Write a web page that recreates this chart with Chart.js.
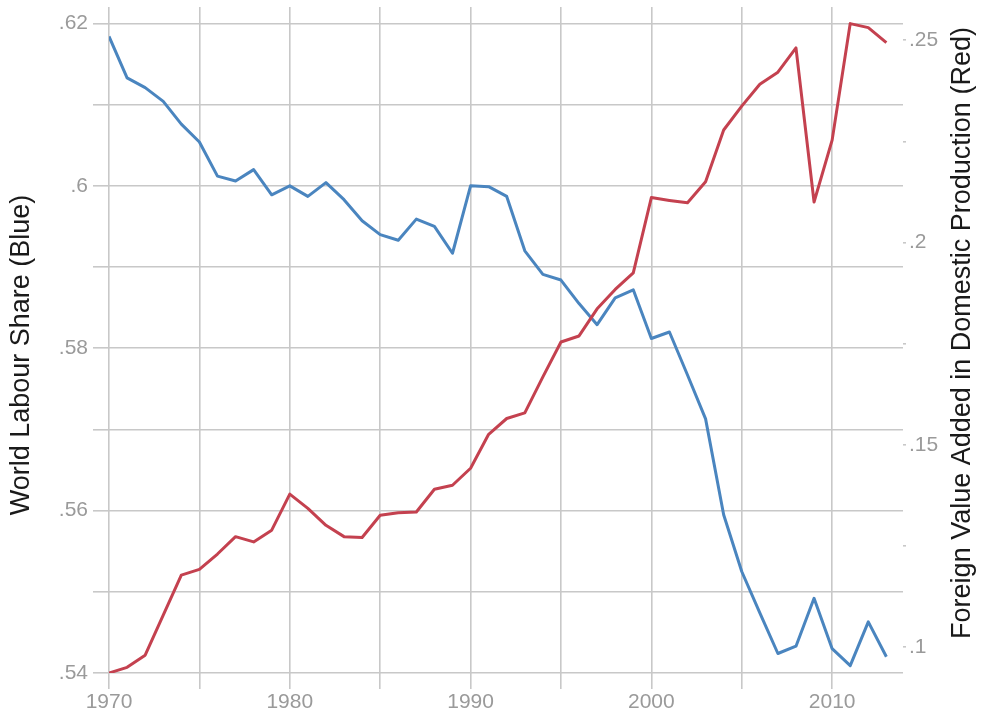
<!DOCTYPE html>
<html>
<head>
<meta charset="utf-8">
<script src="https://cdn.jsdelivr.net/npm/chart.js@4"></script>
<style>
  html, body { margin: 0; padding: 0; background: #fff; }
  #wrap { width: 981px; height: 713px; }
</style>
</head>
<body>
<div id="wrap"><canvas id="chart"></canvas></div>
<script>
const years = [1970, 1971, 1972, 1973, 1974, 1975, 1976, 1977, 1978, 1979,
               1980, 1981, 1982, 1983, 1984, 1985, 1986, 1987, 1988, 1989,
               1990, 1991, 1992, 1993, 1994, 1995, 1996, 1997, 1998, 1999,
               2000, 2001, 2002, 2003, 2004, 2005, 2006, 2007, 2008, 2009,
               2010, 2011, 2012, 2013];

// world labour share (left axis)
const labourShare = [.6184, .6133, .6121, .6104, .6076, .6054, .6012, .6006, .6020, .5989,
                     .6000, .5987, .6004, .5983, .5957, .5940, .5933, .5959, .5950, .5917,
                     .6000, .5999, .5987, .5920, .5891, .5884, .5855, .5829, .5862, .5872,
                     .5812, .5820, .5767, .5713, .5595, .5525, .5474, .5424, .5433, .5492,
                     .5430, .5409, .5463, .5420];

// foreign value added in domestic production (right axis)
const foreignVA = [.0936, .0950, .0980, .1079, .1178, .1192, .1230, .1273, .1260, .1289,
                   .1378, .1343, .1301, .1273, .1271, .1326, .1332, .1334, .1390, .1400,
                   .1442, .1526, .1565, .1579, .1668, .1754, .1769, .1836, .1884, .1925,
                   .2111, .2104, .2098, .2150, .2278, .2337, .2391, .2421, .2481, .2100,
                   .2253, .2541, .2531, .2494];

const leftLabels = [.54, .56, .58, .6, .62];
const rightLabels = [.1, .15, .2, .25];
const yearLabels = [1970, 1980, 1990, 2000, 2010];

const leftTitle = 'World Labour Share (Blue)';
const rightTitle = 'Foreign Value Added in Domestic Production (Red)';

const FONT = '"Liberation Sans", Arial, Helvetica, sans-serif';
const GRID = '#c8c8c8';
const TICK_TEXT = '#9a9a9a';

// stata style: .6 instead of 0.60
function fmt(v) {
    return String(Number(v.toFixed(3))).replace(/^0/, '');
}
function near(list, v) {
    return list.some(t => Math.abs(t - v) < 1e-6);
}
// fixed axis box, no extra room for half-labels at the ends
function fixBox(w, h) {
    return s => {
        if (w) s.width = w;
        if (h) s.height = h;
        s.paddingTop = 0;
        s.paddingBottom = 0;
        s.paddingLeft = 0;
        s.paddingRight = 0;
    };
}

// both axis titles read bottom-to-top
const axisTitles = {
    id: 'axisTitles',
    afterDraw(chart) {
        const { ctx } = chart;
        ctx.save();
        ctx.fillStyle = '#1a1a1a';
        ctx.font = '27px ' + FONT;
        ctx.textAlign = 'center';
        ctx.textBaseline = 'middle';
        [[22, 355, leftTitle], [963, 333, rightTitle]].forEach(([x, y, txt]) => {
            ctx.save();
            ctx.translate(x, y);
            ctx.rotate(-Math.PI / 2);
            ctx.fillText(txt, 0, 0);
            ctx.restore();
        });
        ctx.restore();
    }
};

new Chart(document.getElementById('chart'), {
    type: 'line',
    data: {
        datasets: [
            {
                label: 'World Labour Share',
                data: years.map((y, i) => ({ x: y, y: labourShare[i] })),
                yAxisID: 'yLeft',
                borderColor: '#4a85bf',
                borderWidth: 3,
                pointRadius: 0,
                tension: 0,
                borderJoinStyle: 'round',
                order: 2
            },
            {
                label: 'Foreign Value Added in Domestic Production',
                data: years.map((y, i) => ({ x: y, y: foreignVA[i] })),
                yAxisID: 'yRight',
                borderColor: '#c4414f',
                borderWidth: 3,
                pointRadius: 0,
                tension: 0,
                borderJoinStyle: 'round',
                order: 1
            }
        ]
    },
    options: {
        responsive: true,
        maintainAspectRatio: false,
        animation: false,
        layout: { padding: { top: 7, left: 0, right: 0, bottom: 0 } },
        plugins: {
            legend: { display: false },
            tooltip: { enabled: false }
        },
        scales: {
            x: {
                type: 'linear',
                min: 1970,
                max: 2013.92,
                border: { display: false },
                grid: { color: GRID, lineWidth: 1.6, tickLength: 16, tickColor: GRID },
                ticks: {
                    stepSize: 5,
                    includeBounds: false,
                    autoSkip: false,
                    maxRotation: 0,
                    padding: 1,
                    color: TICK_TEXT,
                    font: { family: FONT, size: 21 },
                    callback: v => near(yearLabels, v) ? String(v) : ''
                },
                afterFit: fixBox(0, 40)
            },
            yLeft: {
                type: 'linear',
                position: 'left',
                min: 0.54,
                max: 0.62203,
                border: { display: false },
                grid: { color: GRID, lineWidth: 1.6, tickLength: 16, tickColor: GRID },
                ticks: {
                    stepSize: 0.01,
                    includeBounds: false,
                    autoSkip: false,
                    padding: 5,
                    color: TICK_TEXT,
                    font: { family: FONT, size: 21 },
                    callback: v => near(leftLabels, v) ? fmt(v) : ''
                },
                afterFit: fixBox(109, 0)
            },
            yRight: {
                type: 'linear',
                position: 'right',
                min: 0.0936,
                max: 0.2582,
                border: { display: false },
                grid: { drawOnChartArea: false, color: GRID, lineWidth: 1.6, tickLength: 3, tickColor: GRID },
                ticks: {
                    stepSize: 0.025,
                    includeBounds: false,
                    autoSkip: false,
                    padding: 3,
                    color: TICK_TEXT,
                    font: { family: FONT, size: 21 },
                    callback: v => near(rightLabels, v) ? fmt(v) : ''
                },
                afterFit: fixBox(78, 0)
            }
        }
    },
    plugins: [axisTitles]
});
</script>
</body>
</html>
